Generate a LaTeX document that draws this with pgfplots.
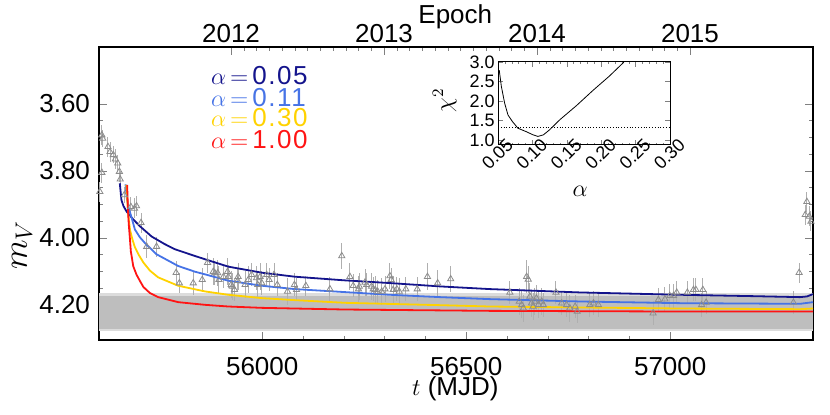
\documentclass[border=0pt]{standalone}
\usepackage{fontspec}
\setmainfont{Liberation Sans}
\newfontfamily\idl{Liberation Sans}[LetterSpace=6]
\usepackage{pgfplots}
\pgfplotsset{compat=1.18}
\usepackage{pgfplotstable}
\definecolor{navyc}{RGB}{20,20,140}
\definecolor{bluec}{RGB}{70,115,230}
\definecolor{goldc}{RGB}{255,210,0}
\definecolor{redc}{RGB}{255,20,20}
\definecolor{bandgray}{RGB}{190,190,190}
\definecolor{bandlight}{RGB}{220,220,220}
\definecolor{ptgray}{RGB}{140,140,140}
\definecolor{errgray}{RGB}{175,175,175}

\pgfplotstableread{
t m e
55607 3.693 0.030
55609 3.703 0.025
55607 3.805 0.030
55602 3.862 0.030
55622 3.728 0.030
55627 3.743 0.030
55635 3.752 0.025
55640 3.765 0.030
55646 3.777 0.025
55650 3.802 0.030
55652 3.825 0.025
55662 3.872 0.025
55678 3.907 0.030
55687 3.912 0.030
55692 3.905 0.030
55703 3.955 0.030
55717 4.026 0.035
55741 4.026 0.030
55789 4.104 0.035
55797 4.135 0.030
55831 4.135 0.035
55853 4.125 0.035
55866 4.074 0.030
55880 4.101 0.040
55884 4.105 0.035
55891 4.105 0.040
55894 4.125 0.040
55905 4.116 0.035
55915 4.101 0.040
55917 4.116 0.035
55924 4.140 0.040
55927 4.145 0.040
55932 4.155 0.035
55940 4.128 0.035
55941 4.116 0.040
55958 4.140 0.040
55966 4.125 0.040
55974 4.110 0.035
55986 4.120 0.035
55989 4.140 0.040
55995 4.116 0.040
55999 4.135 0.035
56011 4.110 0.035
56017 4.125 0.035
56029 4.110 0.035
56037 4.140 0.035
56062 4.160 0.040
56079 4.140 0.035
56084 4.155 0.035
56107 4.143 0.030
56166 4.153 0.035
56195 4.054 0.040
56215 4.116 0.040
56223 4.143 0.035
56236 4.153 0.040
56238 4.145 0.040
56252 4.133 0.040
56256 4.140 0.035
56268 4.145 0.040
56272 4.153 0.035
56277 4.155 0.040
56283 4.160 0.035
56293 4.160 0.040
56301 4.153 0.040
56313 4.114 0.040
56316 4.125 0.035
56321 4.155 0.040
56330 4.153 0.035
56336 4.160 0.040
56352 4.153 0.035
56380 4.153 0.035
56405 4.116 0.040
56430 4.135 0.040
56462 4.123 0.040
56607 4.163 0.035
56630 4.190 0.040
56636 4.200 0.040
56640 4.210 0.040
56648 4.116 0.050
56652 4.124 0.040
56656 4.175 0.040
56660 4.195 0.040
56664 4.205 0.040
56668 4.190 0.040
56672 4.180 0.040
56677 4.200 0.040
56685 4.190 0.040
56689 4.200 0.035
56720 4.163 0.035
56734 4.195 0.035
56746 4.200 0.035
56754 4.210 0.040
56767 4.205 0.035
56772 4.220 0.035
56803 4.200 0.035
56812 4.195 0.035
56824 4.200 0.035
56958 4.225 0.035
56971 4.185 0.035
56987 4.183 0.035
56999 4.173 0.035
57008 4.173 0.035
57016 4.163 0.035
57042 4.163 0.035
57057 4.155 0.035
57063 4.155 0.035
57080 4.155 0.035
57077 4.200 0.035
57088 4.193 0.035
57302 4.193 0.035
57316 4.104 0.030
57335 3.892 0.030
57331 3.931 0.030
57341 3.936 0.030
57345 3.951 0.030
}\datapts

\pgfplotstableread{
t m
55651 3.837
55655 3.887
55660 3.905
55668 3.922
55684 3.945
55700 3.965
55729 3.996
55760 4.018
55786 4.034
55835 4.054
55860 4.064
55917 4.086
55999 4.104
56080 4.116
56203 4.127
56313 4.135
56436 4.145
56558 4.153
56779 4.163
57024 4.170
57200 4.174
57318 4.177
57335 4.175
57350 4.168
}\curveA

\pgfplotstableread{
t m
55665 3.840
55668 3.880
55672 3.907
55680 3.940
55688 3.975
55700 3.998
55713 4.016
55741 4.049
55794 4.084
55835 4.101
55860 4.109
55917 4.128
55999 4.143
56080 4.153
56203 4.162
56313 4.170
56436 4.177
56558 4.183
56779 4.190
57024 4.195
57318 4.197
57350 4.192
}\curveB

\pgfplotstableread{
t m
55667 3.842
55670 3.900
55672 3.935
55676 3.976
55682 4.005
55688 4.028
55698 4.052
55709 4.074
55725 4.098
55745 4.118
55794 4.143
55860 4.160
55917 4.170
55999 4.180
56080 4.186
56203 4.194
56436 4.201
56558 4.205
57024 4.211
57318 4.213
57350 4.211
}\curveC

\pgfplotstableread{
t m
55669 3.842
55671 3.917
55673 3.960
55676 4.006
55678 4.040
55684 4.085
55692 4.110
55700 4.128
55709 4.147
55725 4.165
55745 4.177
55794 4.192
55860 4.200
55917 4.205
55999 4.209
56203 4.214
56558 4.218
57024 4.220
57350 4.220
}\curveD

\pgfplotstableread{
a c
0.0518 2.79
0.0549 2.37
0.0597 1.94
0.0645 1.64
0.0710 1.47
0.0790 1.30
0.0913 1.21
0.1010 1.13
0.1080 1.09
0.1160 1.13
0.1250 1.26
0.1400 1.52
0.1640 1.88
0.1880 2.27
0.2120 2.64
0.2320 2.98
0.2330 3.00
}\chisq

\begin{document}
\begin{tikzpicture}[x=1pt,y=1pt]
\path[use as bounding box] (0,0) rectangle (415,207.5);

% top epoch axis
\begin{axis}[
  at={(49.5pt,37.5pt)}, anchor=south west,
  width=357pt, height=146.5pt, scale only axis,
  xmin=2011.137, xmax=2015.804, ymin=0, ymax=1,
  axis x line*=top, axis y line=none,
  xtick={2012,2013,2014,2015}, minor x tick num=11,
  scaled x ticks=false,
  tick align=inside, major tick length=4pt, minor tick length=2pt,
  /pgf/number format/assume math mode=true,
  xticklabel style={/pgf/number format/1000 sep={}, font=\fontsize{13}{13}\selectfont, yshift=-1.5pt},
  axis line style={line width=0.6pt},
  xlabel={Epoch},
  xlabel style={at={(axis description cs:0.499,1.104)}, anchor=center, font=\fontsize{13}{13}\selectfont},
]
\addplot[draw=none] coordinates {(2012,0.5)};
\end{axis}

% main axis
\begin{axis}[
  at={(49.5pt,37.5pt)}, anchor=south west,
  width=357pt, height=146.5pt, scale only axis,
  xmin=55600, xmax=57350, ymin=3.43, ymax=4.305, y dir=reverse,
  xtick={56000,56500,57000}, minor x tick num=4,
  ytick={3.6,3.8,4.0,4.2}, minor y tick num=3,
  scaled x ticks=false, scaled y ticks=false,
  xtick pos=bottom, ytick pos=both,
  tick align=inside, major tick length=4pt, minor tick length=2pt,
  axis line style={line width=0.6pt},
  /pgf/number format/assume math mode=true,
  tick label style={font=\fontsize{13}{13}\selectfont},
  xticklabel style={/pgf/number format/1000 sep={}, yshift=-5pt},
  yticklabel style={/pgf/number format/fixed, /pgf/number format/fixed zerofill, /pgf/number format/precision=2, xshift=-1pt},
  xlabel={$t$ (MJD)},
  xlabel style={at={(axis description cs:0.499,-0.166)}, anchor=center, font=\fontsize{13}{13}\selectfont},
]
\addplot[fill=bandlight, draw=none, forget plot] coordinates {(55600,4.166) (57350,4.166) (57350,4.279) (55600,4.279)} -- cycle;
\addplot[fill=bandgray, draw=none, forget plot] coordinates {(55600,4.173) (57350,4.173) (57350,4.272) (55600,4.272)} -- cycle;
\addplot[only marks, mark=triangle, mark size=1.8pt, ptgray, mark options={line width=0.4pt},
  error bars/.cd, y dir=both, y explicit, error mark=none,
  error bar style={errgray, line width=0.5pt}]
  table[x=t, y=m, y error=e] {\datapts};
\addplot[navyc, line width=0.9pt, no marks] table[x=t, y=m] {\curveA};
\addplot[bluec, line width=0.9pt, no marks] table[x=t, y=m] {\curveB};
\addplot[goldc, line width=0.9pt, no marks] table[x=t, y=m] {\curveC};
\addplot[redc, line width=0.9pt, no marks] table[x=t, y=m] {\curveD};
\node[anchor=west, text=navyc, font=\idl\fontsize{13}{13}\selectfont] at (axis description cs:0.147,0.904) {$\alpha\,{=}\,$0.05};
\node[anchor=west, text=bluec, font=\idl\fontsize{13}{13}\selectfont] at (axis description cs:0.147,0.829) {$\alpha\,{=}\,$0.11};
\node[anchor=west, text=goldc, font=\idl\fontsize{13}{13}\selectfont] at (axis description cs:0.147,0.758) {$\alpha\,{=}\,$0.30};
\node[anchor=west, text=redc, font=\idl\fontsize{13}{13}\selectfont] at (axis description cs:0.147,0.683) {$\alpha\,{=}\,$1.00};
\end{axis}

\node[rotate=90, anchor=center, font=\fontsize{17}{17}\selectfont] at (11pt,85pt) {$m_V$};

% inset
\begin{axis}[
  at={(249pt,135pt)}, anchor=south west,
  width=86pt, height=41.5pt, scale only axis,
  xmin=0.05, xmax=0.30, ymin=0.87, ymax=3.0,
  xtick={0.05,0.1,0.15,0.2,0.25,0.3}, minor x tick num=4,
  ytick={1,1.5,2,2.5,3},
  tick align=inside, major tick length=2.5pt, minor tick length=1.2pt,
  axis background/.style={fill=white},
  axis line style={line width=0.5pt},
  /pgf/number format/assume math mode=true,
  tick label style={font=\fontsize{9}{9}\selectfont},
  xticklabel style={/pgf/number format/fixed, /pgf/number format/fixed zerofill, /pgf/number format/precision=2, rotate=45, anchor=east, xshift=6.5pt, yshift=-3pt, inner sep=1pt},
  yticklabel style={/pgf/number format/fixed, /pgf/number format/fixed zerofill, /pgf/number format/precision=1, inner sep=1.5pt},
  xlabel={$\alpha$},
  xlabel style={at={(axis description cs:0.477,-0.56)}, anchor=center, font=\fontsize{12}{12}\selectfont},
  ylabel={$\chi^2$},
  ylabel style={at={(axis description cs:-0.31,0.54)}, anchor=center, font=\fontsize{12}{12}\selectfont},
]
\addplot[black, line width=0.4pt, no marks] table[x=a, y=c] {\chisq};
\addplot[black, densely dotted, line width=0.4pt, no marks] coordinates {(0.05,1.33) (0.30,1.33)};
\end{axis}
\end{tikzpicture}
\end{document}
